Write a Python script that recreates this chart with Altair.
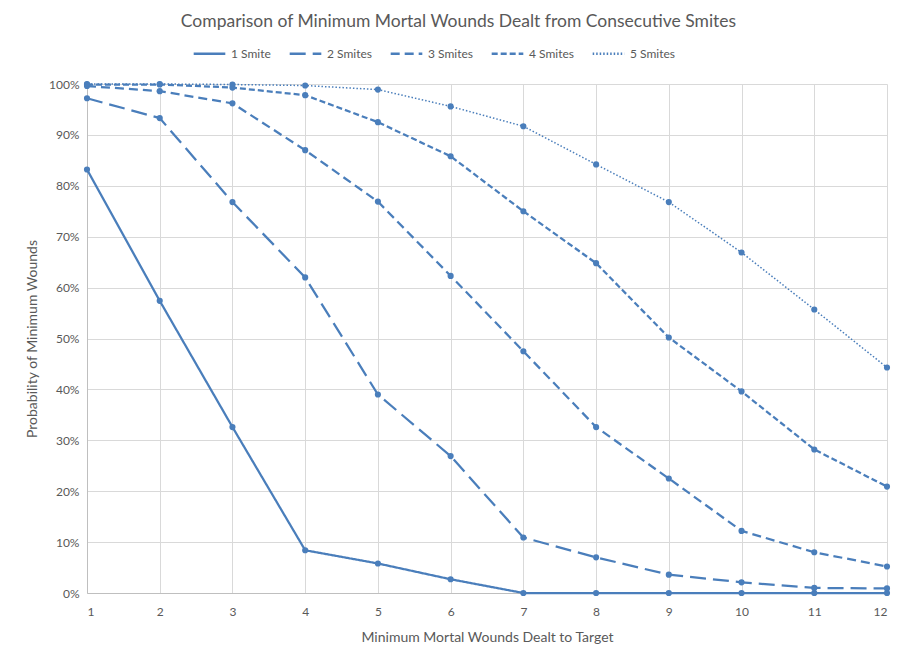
import altair as alt
import pandas as pd

names = ["1 Smite", "2 Smites", "3 Smites", "4 Smites", "5 Smites"]
wounds = list(range(1, 13))
s1 = [83.2, 57.4, 32.6, 8.4, 5.8, 2.7, 0, 0, 0, 0, 0, 0]
s2 = [97.2, 93.3, 76.8, 62.0, 39.0, 26.9, 10.9, 7.0, 3.6, 2.1, 1.0, 0.9]
s3 = [99.6, 98.6, 96.2, 87.0, 76.9, 62.3, 47.5, 32.6, 22.5, 12.2, 8.0, 5.2]
s4 = [99.9, 99.9, 99.3, 97.8, 92.5, 85.8, 75.0, 64.8, 50.2, 39.6, 28.2, 20.9]
s5 = [100, 100, 99.9, 99.7, 98.9, 95.6, 91.7, 84.2, 76.8, 66.9, 55.7, 44.3]
series = [s1, s2, s3, s4, s5]
weights = ["thick", "thick", "thick", "thick", "thin"]

rows = []
for name, wt, vals in zip(names, weights, series):
    for w, v in zip(wounds, vals):
        rows.append({"series": name, "weight": wt, "wounds": w, "prob": v})
df = pd.DataFrame(rows)

BLUE = "#4A7EBB"
GRAY = "#595959"
FONT = "Lato"

x = alt.X("wounds:Q", scale=alt.Scale(domain=[1, 12], nice=False),
          axis=alt.Axis(values=wounds, format="d",
                        title="Minimum  Mortal Wounds Dealt to Target",
                        grid=True, ticks=False, labelPadding=13, titlePadding=13))
y = alt.Y("prob:Q", scale=alt.Scale(domain=[0, 100], nice=False),
          axis=alt.Axis(values=list(range(0, 101, 10)), labelExpr="datum.value + '%'",
                        title="Probability of Minimum Wounds", ticks=False,
                        labelPadding=8, titlePadding=9))

dash = alt.StrokeDash("series:N",
                      scale=alt.Scale(domain=names,
                                      range=[[1, 0], [16, 7], [9, 5], [6, 3], [1.5, 2]]),
                      legend=alt.Legend(title=None, orient="none", direction="horizontal",
                                        columns=5, legendX=105, legendY=-48,
                                        symbolType="stroke", symbolSize=1000,
                                        symbolStrokeWidth=2.5, symbolStrokeColor=BLUE,
                                        labelFontSize=12, labelColor=GRAY, labelFont=FONT,
                                        columnPadding=13, labelOffset=4))

lines = alt.Chart(df).mark_line(color=BLUE).encode(
    x=x, y=y, strokeDash=dash,
    size=alt.Size("weight:N", scale=alt.Scale(domain=["thick", "thin"], range=[2.25, 1.5]),
                  legend=None),
    detail="series:N",
    order="wounds:Q",
)
points = alt.Chart(df).mark_point(filled=True, color=BLUE, opacity=1, size=38).encode(
    x=x, y=y, detail="series:N"
)

chart = (lines + points).properties(
    width=800, height=509,
    title=alt.TitleParams("Comparison of  Minimum Mortal Wounds Dealt from Consecutive Smites",
                          fontSize=17.5, font=FONT, fontWeight="normal", color=GRAY,
                          anchor="middle", frame="bounds", offset=6),
    padding={"left": 17, "top": 4, "right": 2, "bottom": 5},
).configure_view(stroke=None).configure_axis(
    gridColor="#D9D9D9", domainColor="#BFBFBF", labelColor=GRAY, titleColor=GRAY,
    labelFont=FONT, titleFont=FONT, labelFontSize=12, titleFontSize=14,
    titleFontWeight="normal", gridWidth=1,
)

chart.save("out.html", embed_options={"renderer": "svg", "actions": False})
